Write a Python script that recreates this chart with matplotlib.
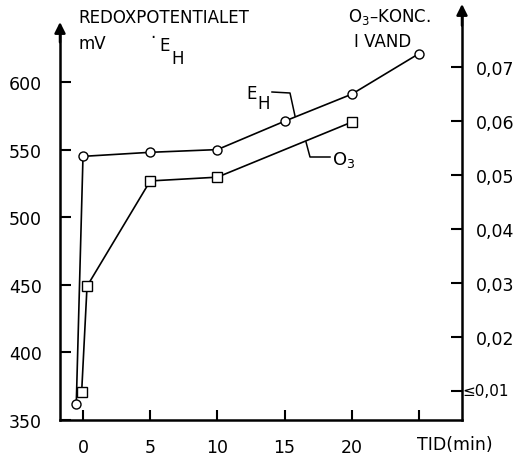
import matplotlib
matplotlib.use("Agg")
import matplotlib.pyplot as plt

# ---- data ----
eh_time = [-0.5, 0, 5, 10, 15, 20, 25]
eh_mv = [362, 545, 548, 550, 571, 591, 621]
o3_time = [-0.1, 0.3, 5, 10, 20]
o3_conc = [0.0098, 0.0294, 0.0489, 0.0496, 0.0598]

x_ticks = [0, 5, 10, 15, 20, 25]
x_labels = ["0", "5", "10", "15", "20", ""]
left_ticks = [350, 400, 450, 500, 550, 600]
left_labels = ["350", "400", "450", "500", "550", "600"]
right_ticks = [0.01, 0.02, 0.03, 0.04, 0.05, 0.06, 0.07]
right_labels = ["≤0,01", "0,02", "0,03", "0,04", "0,05", "0,06", "0,07"]

W, H = 517, 456
plt.rcParams['font.family'] = ['DejaVu Sans']
fig = plt.figure(figsize=(W / 100, H / 100), dpi=100)

def fx(px):
    return px / W

def fy(py):
    return 1 - py / H

ax_left, ax_right, ax_bot, ax_top = 60, 462, 421, 4
ax = fig.add_axes([fx(ax_left), fy(ax_bot), fx(ax_right) - fx(ax_left), fy(ax_top) - fy(ax_bot)])
ax.patch.set_alpha(0)

# x mapping: 0 -> 83 px, 25 -> 419 px
xs = (419 - 83) / 25.0
ax.set_xlim((ax_left - 83) / xs, (ax_right - 83) / xs)
# left y mapping: 350 -> 421, 600 -> 83
ys = (421 - 83) / 250.0
ax.set_ylim(350 + (421 - ax_bot) / ys, 350 + (421 - ax_top) / ys)

ax2 = ax.twinx()
rs = (392 - 68) / 0.06
ax2.set_ylim(0.01 - (ax_bot - 392) / rs, 0.01 + (392 - ax_top) / rs)

for a in (ax, ax2):
    a.spines['top'].set_visible(False)
    for s in a.spines.values():
        s.set_linewidth(1.8)

left_tip = 350 + (421 - 23) / ys
ax.spines['left'].set_bounds(350, left_tip - 8)
ax.spines['right'].set_visible(False)
ax2.spines['left'].set_visible(False)
right_tip = 0.01 + (392 - 5) / rs
ax2.spines['right'].set_bounds(ax2.get_ylim()[0], right_tip - 0.002)
ax2.spines['bottom'].set_visible(False)

# arrowheads
ax.annotate('', xy=(0, left_tip), xytext=(0, left_tip - 15),
            xycoords=('axes fraction', 'data'), textcoords=('axes fraction', 'data'),
            arrowprops=dict(arrowstyle='-|>', color='black', lw=1.8, mutation_scale=16,
                            shrinkA=0, shrinkB=0), annotation_clip=False)
ax2.annotate('', xy=(1, right_tip), xytext=(1, right_tip - 0.004),
             xycoords=('axes fraction', 'data'), textcoords=('axes fraction', 'data'),
             arrowprops=dict(arrowstyle='-|>', color='black', lw=1.8, mutation_scale=16,
                             shrinkA=0, shrinkB=0), annotation_clip=False)

ax.set_xticks(x_ticks)
ax.set_xticklabels(x_labels)
ax.set_yticks(left_ticks)
ax.set_yticklabels(left_labels)
ax2.set_yticks(right_ticks)
ax2.set_yticklabels([""] + right_labels[1:])
ax.tick_params(axis='x', direction='in', length=7, width=1.5, pad=13, labelsize=12.5)
ax.tick_params(axis='y', direction='in', length=8, width=1.5, pad=13, labelsize=12.5)
ax2.tick_params(axis='y', direction='in', length=8, width=1.5, pad=10, labelsize=12.5)
# first right label sits closer to the axis
ax2.text(1.0, right_ticks[0], right_labels[0], transform=ax2.get_yaxis_transform(),
         fontsize=11, va='center', ha='left', clip_on=False)

# data lines
ax.plot(eh_time, eh_mv, color='black', lw=1.2, marker='o', markersize=6.5,
        markerfacecolor='white', markeredgecolor='black', markeredgewidth=1.0,
        clip_on=False, zorder=3)
ax2.plot(o3_time, o3_conc, color='black', lw=1.2, marker='s', markersize=6.5,
         markerfacecolor='white', markeredgecolor='black', markeredgewidth=1.0,
         clip_on=False, zorder=3)

# leader lines (pixel -> data)
def dx(px):
    return (px - 83) / xs

def dy(py):
    return 350 + (421 - py) / ys

ax.plot([dx(272), dx(290), dx(295)], [dy(93), dy(94), dy(117)], color='black', lw=1.1)
ax.plot([dx(306), dx(310), dx(330)], [dy(143), dy(158), dy(158)], color='black', lw=1.1)

# texts
fs = 12
fig.text(fx(78), fy(18), "REDOXPOTENTIALET", fontsize=fs, va='center', ha='left')
fig.text(fx(78), fy(44), "mV", fontsize=fs, va='center', ha='left')
fig.text(fx(153), fy(38), "·", fontsize=fs, va='center', ha='center')
fig.text(fx(159), fy(46), "E", fontsize=fs, va='center', ha='left')
fig.text(fx(171), fy(59), "H", fontsize=fs, va='center', ha='left')
fig.text(fx(348), fy(17), r"O$_3$–KONC.", fontsize=fs, va='center', ha='left')
fig.text(fx(354), fy(42), "I VAND", fontsize=fs, va='center', ha='left')
fig.text(fx(246), fy(94), "E", fontsize=fs, va='center', ha='left')
fig.text(fx(257), fy(104), "H", fontsize=fs, va='center', ha='left')
fig.text(fx(332), fy(160), r"O$_3$", fontsize=fs + 1, va='center', ha='left')
fig.text(fx(455), fy(445), "TID(min)", fontsize=12.5, va='center', ha='center')

fig.savefig("out.png", dpi=100)
